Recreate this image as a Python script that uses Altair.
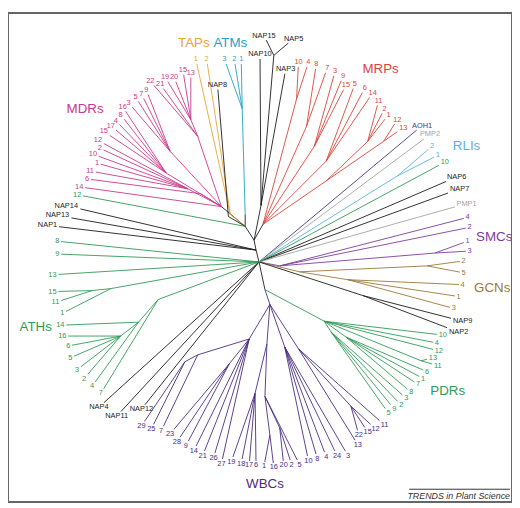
import altair as alt
import pandas as pd
import numpy as np

# ---------------- colours of the gene families ----------------
GROUP_COLORS = {
    "MDR": "#c8388c", "TAP": "#e6a535", "ATM": "#1ea2c4", "NAP": "#1a1a1a",
    "MRP": "#d9443a", "AOH": "#3c3c80", "PMP": "#a3a3a3", "RLI": "#5ab2e0",
    "ATH": "#2f9a55", "PDR": "#2f9a55", "SMC": "#7d3c98", "GCN": "#9a7838",
    "WBC": "#4b2c80",
}

# ---------------- internal nodes of the tree (image coordinates) ----------------
NODES = {
    "C": (262, 262), "L1": (259, 250), "B1": (257, 240), "B2": (248, 226), "B4": (268, 290),
    "M0": (224, 206), "Ma": (193, 118), "Mb": (200, 135), "Md": (172, 150), "Me": (168, 172),
    "Mf": (190, 188), "Mg": (203, 193),
    "T0": (233, 214), "N8": (231, 216), "Aa": (245, 107), "Ab": (248, 214),
    "N1": (277, 53), "Nt": (264, 205),
    "R0": (266, 224), "Ra": (300, 97), "Rb": (310, 125), "Rc": (318, 145), "Rd": (330, 160),
    "Rf": (330, 180), "Rg": (372, 140), "Rh": (388, 140),
    "Rl": (402, 175), "Sa": (283, 266), "Sb": (440, 253),
    "G0": (303, 272), "Ga": (432, 266), "Gb": (352, 280), "Nn": (367, 296),
    "P0": (328, 322), "Pa": (426, 362), "P1": (350, 338), "P2": (335, 333),
    "W0": (273, 305), "Wa": (187, 363), "Wb": (200, 356), "Wc": (232, 365), "Wl": (252, 340),
    "Wd": (258, 395), "We": (273, 437), "Wf": (283, 430), "Wg": (268, 398), "Wm": (270, 345),
    "Wh": (288, 348), "Wi": (355, 408), "Wj": (302, 350),
    "Ha": (93, 291), "Hb": (112, 289), "A2": (122, 337), "A1": (140, 323), "A0": (160, 300),
}

# internal branches: (child, parent, family)
BRANCHES = [
    ("L1", "C", "NAP"), ("B1", "L1", "NAP"), ("B2", "B1", "NAP"), ("B4", "C", "NAP"),
    ("M0", "B2", "NAP"), ("Ma", "Mb", "MDR"), ("Mb", "M0", "MDR"), ("Md", "M0", "MDR"),
    ("Me", "M0", "MDR"), ("Mf", "M0", "MDR"), ("Mg", "M0", "MDR"),
    ("T0", "B2", "TAP"), ("N8", "B2", "NAP"), ("Aa", "Ab", "ATM"), ("Ab", "B2", "NAP"),
    ("N1", "Nt", "NAP"), ("Nt", "B1", "NAP"),
    ("R0", "B1", "NAP"), ("Ra", "R0", "MRP"), ("Rb", "R0", "MRP"), ("Rc", "R0", "MRP"),
    ("Rd", "R0", "MRP"), ("Rg", "Rf", "MRP"), ("Rh", "Rf", "MRP"), ("Rf", "R0", "MRP"),
    ("Rl", "C", "RLI"), ("Sb", "Sa", "SMC"), ("Sa", "C", "SMC"),
    ("Ga", "G0", "GCN"), ("Gb", "G0", "GCN"), ("G0", "C", "GCN"), ("Nn", "C", "NAP"),
    ("P0", "B4", "PDR"), ("Pa", "P0", "PDR"), ("P1", "P0", "PDR"), ("P2", "P0", "PDR"),
    ("W0", "B4", "WBC"), ("Wa", "Wb", "WBC"), ("Wb", "Wl", "WBC"), ("Wc", "Wl", "WBC"),
    ("Wl", "W0", "WBC"), ("Wd", "Wm", "WBC"), ("We", "Wg", "WBC"), ("Wf", "Wg", "WBC"),
    ("Wg", "Wm", "WBC"), ("Wm", "W0", "WBC"), ("Wh", "W0", "WBC"), ("Wi", "Wj", "WBC"),
    ("Wj", "W0", "WBC"),
    ("Ha", "Hb", "ATH"), ("Hb", "C", "ATH"), ("A2", "A1", "ATH"), ("A1", "A0", "ATH"),
    ("A0", "C", "ATH"),
]

# ---------------- leaves: (label, label x, label y, parent node) ----------------
MDR_LEAVES = [
    ("13", 193, 71, "Ma"), ("15", 185, 68, "Ma"), ("20", 176, 75, "Ma"), ("19", 167, 75, "Ma"),
    ("21", 162, 82, "Mb"), ("22", 152, 79, "Mb"), ("9", 148, 88, "Md"), ("7", 143, 92, "Md"),
    ("5", 137, 95, "Md"), ("3", 130, 101, "Md"), ("16", 124, 105, "Me"), ("8", 122, 113, "Me"),
    ("4", 117, 119, "Me"), ("17", 112, 124, "Me"), ("15", 105, 130, "Me"), ("12", 99, 139, "Mf"),
    ("2", 101, 147, "Mf"), ("10", 94, 153, "Mf"), ("1", 98, 162, "Mf"), ("11", 91, 170, "Mf"),
    ("6", 88, 178, "Mg"), ("14", 80, 186, "M0"),
]
TAP_LEAVES = [("1", 198, 57, "T0"), ("2", 209, 57, "T0")]
ATM_LEAVES = [("3", 227, 57, "Aa"), ("2", 237, 57, "Aa"), ("1", 244, 57, "Aa")]
NAP_LEAVES = [
    ("NAP8", 220, 83, "N8"), ("NAP15", 267, 33, "N1"), ("NAP5", 297, 36, "N1"),
    ("NAP10", 263, 52, "Nt"), ("NAP3", 289, 67, "Nt"),
    ("NAP6", 462, 176, "C"), ("NAP7", 465, 188, "C"), ("NAP9", 468, 322, "Nn"),
    ("NAP2", 464, 333, "Nn"), ("NAP14", 67, 205, "L1"), ("NAP13", 58, 215, "L1"),
    ("NAP1", 48, 225, "L1"), ("NAP4", 100, 409, "C"), ("NAP11", 118, 418, "C"),
    ("NAP12", 143, 411, "C"),
]
MRP_LEAVES = [
    ("10", 302, 60, "Ra"), ("4", 312, 60, "Ra"), ("8", 320, 62, "Rb"), ("7", 331, 66, "Rb"),
    ("3", 339, 69, "Rc"), ("9", 347, 74, "Rc"), ("15", 350, 83, "Rc"), ("5", 359, 82, "Rd"),
    ("6", 369, 86, "Rd"), ("14", 377, 91, "Rd"), ("11", 383, 99, "Rg"), ("2", 389, 107, "Rg"),
    ("1", 393, 113, "Rg"), ("12", 402, 118, "Rh"), ("13", 408, 126, "Rh"),
]
AOH_LEAVES = [("AOH1", 427, 124, "C")]
PMP_LEAVES = [("PMP2", 435, 133, "C"), ("PMP1", 472, 203, "C")]
RLI_LEAVES = [("2", 437, 145, "Rl"), ("1", 443, 154, "Rl")]
SMC_LEAVES = [("4", 473, 217, "Sa"), ("2", 475, 227, "Sa"), ("1", 473, 241, "Sb"), ("3", 475, 251, "Sb")]
GCN_LEAVES = [("2", 469, 261, "Ga"), ("5", 469, 273, "Ga"), ("4", 468, 285, "Gb"),
              ("1", 464, 297, "Gb"), ("3", 459, 309, "Gb")]
PDR_LEAVES = [
    ("10", 450, 161, "C"),
    ("10", 448, 336, "P0"), ("4", 442, 344, "P0"), ("12", 444, 352, "P0"), ("13", 438, 359, "Pa"),
    ("11", 443, 367, "Pa"), ("6", 432, 373, "P1"), ("1", 428, 380, "P1"), ("7", 423, 386, "P1"),
    ("8", 416, 394, "P1"), ("3", 411, 400, "P2"), ("2", 406, 407, "P2"), ("9", 399, 411, "P2"),
    ("5", 393, 415, "P2"),
]
WBC_LEAVES = [
    ("29", 143, 428, "Wa"), ("25", 153, 431, "Wa"), ("7", 163, 433, "Wb"), ("23", 172, 436, "Wc"),
    ("28", 179, 444, "Wc"), ("9", 188, 448, "Wc"), ("14", 196, 453, "Wl"), ("21", 205, 458, "Wl"),
    ("26", 216, 460, "Wl"), ("27", 224, 466, "Wl"), ("19", 234, 464, "Wd"), ("18", 244, 466, "Wd"),
    ("17", 252, 468, "Wd"), ("6", 259, 468, "Wd"), ("1", 267, 469, "We"), ("16", 277, 470, "We"),
    ("20", 287, 468, "Wf"), ("2", 295, 467, "Wf"), ("5", 303, 467, "Wg"), ("10", 312, 463, "Wh"),
    ("8", 321, 461, "Wh"), ("4", 330, 459, "Wh"), ("24", 341, 458, "Wh"), ("3", 352, 458, "Wh"),
    ("13", 362, 447, "Wj"), ("22", 363, 437, "Wi"), ("15", 372, 434, "Wi"), ("12", 380, 431, "Wi"),
    ("11", 389, 427, "Wj"),
]
ATH_LEAVES = [
    ("12", 78, 194, "B2"), ("8", 58, 241, "C"), ("9", 58, 254, "C"), ("13", 53, 275, "C"),
    ("15", 53, 292, "Ha"), ("11", 56, 303, "Ha"), ("1", 63, 314, "Hb"), ("14", 61, 326, "A1"),
    ("16", 63, 337, "A2"), ("6", 69, 347, "A2"), ("5", 71, 359, "A2"), ("3", 78, 371, "A2"),
    ("2", 85, 380, "A2"), ("4", 93, 388, "A1"), ("7", 102, 395, "A0"),
]

LEAF_GROUPS = {
    "MDR": MDR_LEAVES, "TAP": TAP_LEAVES, "ATM": ATM_LEAVES, "NAP": NAP_LEAVES,
    "MRP": MRP_LEAVES, "AOH": AOH_LEAVES, "PMP": PMP_LEAVES, "RLI": RLI_LEAVES,
    "SMC": SMC_LEAVES, "GCN": GCN_LEAVES, "PDR": PDR_LEAVES, "WBC": WBC_LEAVES,
    "ATH": ATH_LEAVES,
}

# ---------------- family names ----------------
FAMILY_NAMES = ["TAPs", "ATMs", "MDRs", "MRPs", "RLIs", "SMCs", "GCNs", "PDRs", "WBCs", "ATHs"]
FAMILY_X = [196, 233, 86, 385, 472, 500, 498, 453, 268, 36]
FAMILY_Y = [41, 41, 107, 67, 145, 237, 288, 393, 487, 328]
FAMILY_GROUP = ["TAP", "ATM", "MDR", "MRP", "RLI", "SMC", "GCN", "PDR", "WBC", "ATH"]

FOOTNOTE = "TRENDS in Plant Science"

# ---------------- build tables ----------------
FS = 7.5


def leaf_tip(label, lx, ly, px, py):
    dx, dy = px - lx, py - ly
    L = np.hypot(dx, dy)
    ux, uy = dx / L, dy / L
    per = 0.34 if label[0].isalpha() else 0.3
    hw = len(label) * FS * per + 1.5
    hh = FS * 0.45 + 1.2
    tx = hw / abs(ux) if abs(ux) > 1e-6 else 1e9
    ty = hh / abs(uy) if abs(uy) > 1e-6 else 1e9
    t = min(tx, ty)
    return lx + ux * t, ly + uy * t


seg_rows = []
for child, parent, grp in BRANCHES:
    (x1, y1), (x2, y2) = NODES[child], NODES[parent]
    seg_rows.append(dict(x=x1, y=y1, x2=x2, y2=y2, color=GROUP_COLORS[grp]))

leaf_rows = []
for grp, leaves in LEAF_GROUPS.items():
    for label, lx, ly, parent in leaves:
        px, py = NODES[parent]
        tx, ty = leaf_tip(label, lx, ly, px, py)
        seg_rows.append(dict(x=tx, y=ty, x2=px, y2=py, color=GROUP_COLORS[grp]))
        leaf_rows.append(dict(x=lx, y=ly, text=label, color=GROUP_COLORS[grp]))

seg_df = pd.DataFrame(seg_rows)
leaf_df = pd.DataFrame(leaf_rows)
fam_df = pd.DataFrame(dict(x=FAMILY_X, y=FAMILY_Y, text=FAMILY_NAMES,
                           color=[GROUP_COLORS[g] for g in FAMILY_GROUP]))
foot_df = pd.DataFrame(dict(x=[516], y=[499], text=[FOOTNOTE]))
over_df = pd.DataFrame(dict(x=[414], x2=[516], y=[492]))

XS = alt.Scale(domain=[8, 518], nice=False, zero=False)
YS = alt.Scale(domain=[10, 505], nice=False, zero=False, reverse=True)
X = alt.X("x:Q", scale=XS, axis=None)
Y = alt.Y("y:Q", scale=YS, axis=None)

branches = alt.Chart(seg_df).mark_rule(strokeWidth=0.9).encode(
    x=X, y=Y, x2="x2:Q", y2="y2:Q", color=alt.Color("color:N", scale=None)
)
leaf_text = alt.Chart(leaf_df).mark_text(
    fontSize=FS, font="Liberation Sans", align="center", baseline="middle"
).encode(x=X, y=Y, text="text:N", color=alt.Color("color:N", scale=None))
fam_text = alt.Chart(fam_df).mark_text(
    fontSize=13.5, font="Liberation Sans", align="center", baseline="middle"
).encode(x=X, y=Y, text="text:N", color=alt.Color("color:N", scale=None))
foot_text = alt.Chart(foot_df).mark_text(
    fontSize=9, font="Liberation Sans", fontStyle="italic", align="right",
    baseline="middle", color="#333333"
).encode(x=X, y=Y, text="text:N")
overline = alt.Chart(over_df).mark_rule(strokeWidth=1, color="#333333").encode(
    x=X, x2="x2:Q", y=Y
)

chart = alt.layer(branches, leaf_text, fam_text, overline, foot_text).properties(
    width=510, height=495, autosize="none",
    padding={"left": 0, "top": 2, "right": 0, "bottom": 0},
    background="white",
).configure_view(stroke="#666666", strokeWidth=2)

chart.save("out.html", embed_options={"renderer": "svg", "actions": False})
